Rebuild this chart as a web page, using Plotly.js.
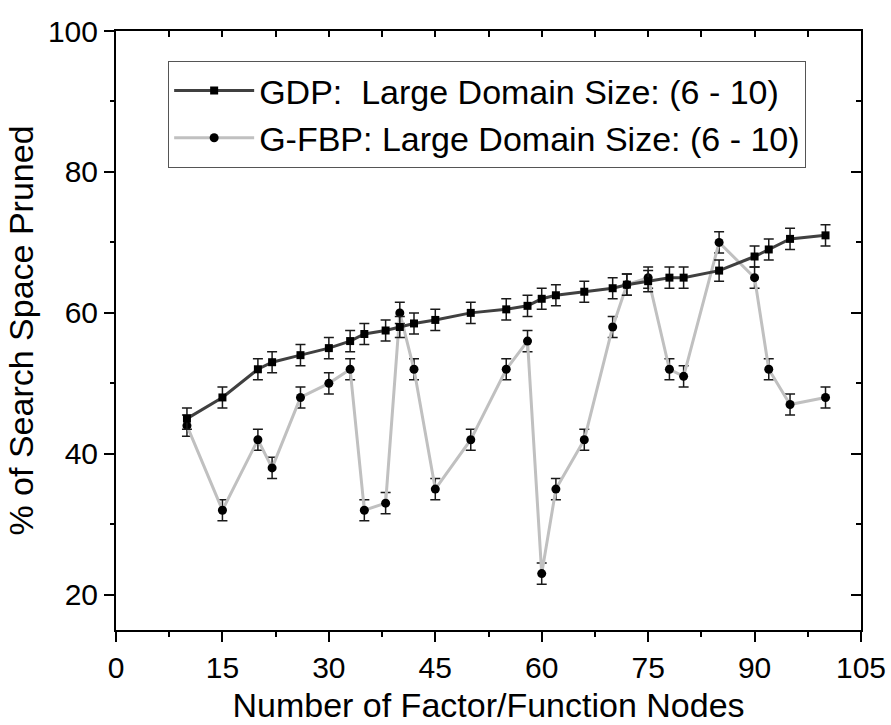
<!DOCTYPE html>
<html>
<head>
<meta charset="utf-8">
<script src="https://cdn.plot.ly/plotly-3.0.1.min.js"></script>
<style>
  html, body { margin: 0; padding: 0; background: #fff; }
  #chart { width: 891px; height: 725px; }
</style>
</head>
<body>
<div id="chart"></div>
<script>
// Number of factor/function nodes
const nodes = [10, 15, 20, 22, 26, 30, 33, 35, 38, 40, 42, 45, 50, 55, 58, 60, 62, 66, 70, 72, 75, 78, 80, 85, 90, 92, 95, 100];

// % of search space pruned
const gdpPruned = [45, 48, 52, 53, 54, 55, 56, 57, 57.5, 58, 58.5, 59, 60, 60.5, 61, 62, 62.5, 63, 63.5, 64, 64.5, 65, 65, 66, 68, 69, 70.5, 71];
const gfbpPruned = [44, 32, 42, 38, 48, 50, 52, 32, 33, 60, 52, 35, 42, 52, 56, 23, 35, 42, 58, 64, 65, 52, 51, 70, 65, 52, 47, 48];

// Error bar half-length
const errGdp = 1.5;
const errGfbp = 1.5;

const seriesNames = [
  'GDP:\u00a0 Large Domain Size: (6 - 10)',
  'G-FBP: Large Domain Size: (6 - 10)'
];

const xTickVals = [0, 15, 30, 45, 60, 75, 90, 105];
const yTickVals = [20, 40, 60, 80, 100];

const FONT = 'Liberation Sans, Arial, Helvetica, sans-serif';

const errStyle = (v) => ({ type: 'constant', value: v, visible: true, width: 5, thickness: 1.5, color: '#1a1a1a' });

const traces = [
  {
    x: nodes, y: gfbpPruned, name: seriesNames[1],
    type: 'scatter', mode: 'lines+markers',
    line: { color: '#c0c0c0', width: 3 },
    marker: { symbol: 'circle', size: 9, color: '#000' },
    error_y: errStyle(errGfbp)
  },
  {
    x: nodes, y: gdpPruned, name: seriesNames[0],
    type: 'scatter', mode: 'lines+markers',
    line: { color: '#404040', width: 3 },
    marker: { symbol: 'square', size: 8, color: '#000' },
    error_y: errStyle(errGdp)
  },
  {
    // carrier for the mirrored top/right frame axes
    x: nodes, y: gdpPruned, xaxis: 'x2', yaxis: 'y2',
    type: 'scatter', mode: 'markers', marker: { opacity: 0 },
    showlegend: false, hoverinfo: 'skip'
  }
];

const baseAxis = {
  showgrid: false, zeroline: false, showline: true,
  linecolor: '#000', linewidth: 2, tickcolor: '#000', tickwidth: 2
};

const layout = {
  width: 891, height: 725,
  margin: { l: 116, r: 30, t: 31, b: 95 },
  paper_bgcolor: '#fff', plot_bgcolor: '#fff',
  font: { family: FONT, color: '#000', size: 30 },
  showlegend: true,
  legend: {
    x: 0.07, y: 0.95, xanchor: 'left', yanchor: 'top',
    bgcolor: '#fff', bordercolor: '#555', borderwidth: 1,
    font: { family: FONT, size: 34, color: '#000' },
    traceorder: 'reversed', itemwidth: 80, tracegroupgap: 0
  },
  xaxis: Object.assign({}, baseAxis, {
    range: [0, 105], tickmode: 'array', tickvals: xTickVals,
    ticks: 'outside', ticklen: 10,
    minor: { ticks: 'outside', ticklen: 5, dtick: 7.5, tick0: 0, tickwidth: 2, tickcolor: '#000' },
    tickfont: { family: FONT, size: 30 },
    title: { text: 'Number of Factor/Function Nodes', font: { family: FONT, size: 34 }, standoff: 10 }
  }),
  yaxis: Object.assign({}, baseAxis, {
    range: [15, 100], tickmode: 'array', tickvals: yTickVals,
    ticks: 'outside', ticklen: 10,
    minor: { ticks: 'outside', ticklen: 4, dtick: 10, tick0: 0, tickwidth: 2, tickcolor: '#000' },
    tickfont: { family: FONT, size: 30 },
    title: { text: '% of Search Space Pruned', font: { family: FONT, size: 34 }, standoff: 4 }
  }),
  xaxis2: Object.assign({}, baseAxis, {
    overlaying: 'x', side: 'top', range: [0, 105],
    tickmode: 'array', tickvals: xTickVals, ticks: 'inside', ticklen: 6,
    minor: { ticks: 'inside', ticklen: 6, dtick: 7.5, tick0: 0, tickwidth: 2, tickcolor: '#000' },
    showticklabels: false
  }),
  yaxis2: Object.assign({}, baseAxis, {
    overlaying: 'y', side: 'right', range: [15, 100],
    tickmode: 'array', tickvals: yTickVals, ticks: 'inside', ticklen: 10,
    minor: { ticks: 'inside', ticklen: 5, dtick: 10, tick0: 0, tickwidth: 2, tickcolor: '#000' },
    showticklabels: false
  })
};

Plotly.newPlot('chart', traces, layout, { staticPlot: true, displayModeBar: false });
</script>
</body>
</html>
